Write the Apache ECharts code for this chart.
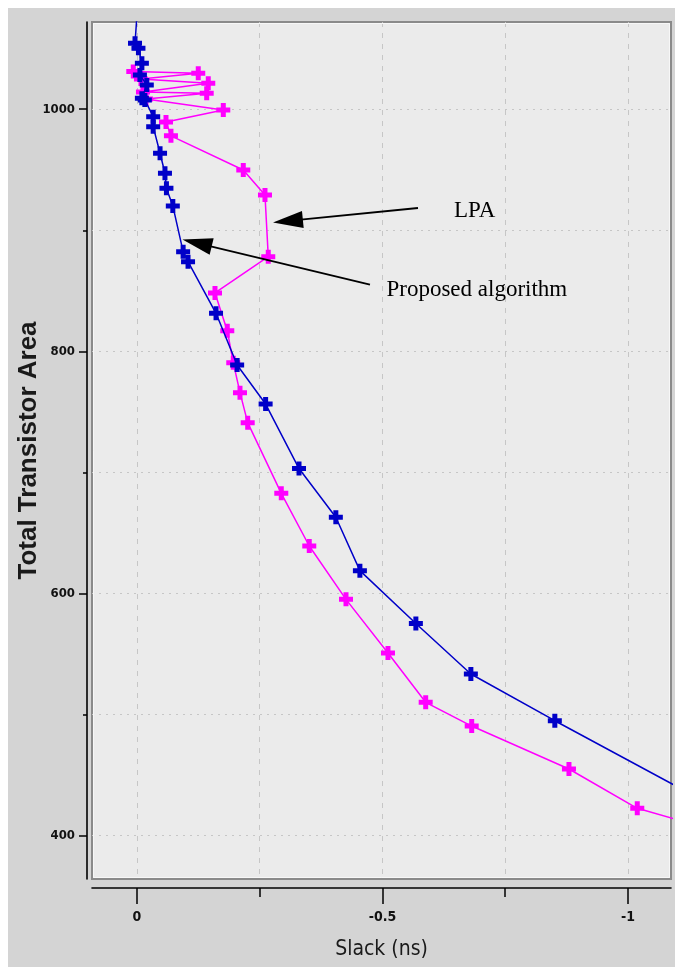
<!DOCTYPE html>
<html><head><meta charset="utf-8">
<script src="https://cdn.jsdelivr.net/npm/echarts@6/dist/echarts.min.js"></script>
<style>html,body{margin:0;padding:0;background:#fff}#c{width:675px;height:967px}</style>
</head><body><div id="c"></div>
<script>
// ---- data ----
const proposedSlack = [0.000, 0.004, -0.003, -0.010, -0.006, -0.020, -0.010, -0.016, -0.033, -0.033, -0.047, -0.057, -0.060, -0.073, -0.094, -0.104, -0.161, -0.204, -0.262, -0.330, -0.405, -0.454, -0.568, -0.680, -0.851, -1.092];
const proposedArea  = [1078, 1054.5, 1050.4, 1038, 1028.3, 1020, 1009, 1007.7, 993.9, 985.6, 963.6, 947.1, 934.7, 920.1, 882.3, 874.0, 831.4, 788.7, 756.4, 703.1, 662.8, 618.7, 575.0, 533.3, 494.7, 442];
const lpaSlack = [0.0075, -0.1248, -0.0081, -0.1452, -0.0122, -0.1420, -0.0183, -0.1758, -0.0591, -0.0692, -0.2165, -0.2607, -0.2674, -0.1589, -0.1839, -0.1961, -0.2098, -0.2255, -0.2939, -0.3509, -0.4257, -0.5112, -0.5880, -0.6817, -0.8798, -1.0189, -1.15];
const lpaArea  = [1031.1, 1029.8, 1025.0, 1021.5, 1014.3, 1013.2, 1008.5, 999.4, 989.5, 978.0, 949.8, 929.2, 878.2, 848.2, 817.0, 790.6, 765.8, 741.0, 682.6, 639.1, 595.0, 550.7, 509.9, 490.3, 454.8, 422.3, 407.3];
const xMajorTicks = [0, -0.5, -1];
const xMinorTicks = [-0.25, -0.75];
const yMajorTicks = [400, 600, 800, 1000];
const yMinorTicks = [500, 700, 900];
const xLabel = 'Slack (ns)';
const yLabel = 'Total Transistor Area';
const annotations = [
  {text: 'LPA', tail: [-0.5723, 918.4], tip: [-0.277, 906.4], label: [-0.6456, 915.8]},
  {text: 'Proposed algorithm', tail: [-0.4745, 855.0], tip: [-0.0927, 892.4], label: [-0.5081, 850.7]}
];

// ---- chart ----
const X_MIN = -1.0876, X_MAX = 0.0916, Y_MIN = 363.9, Y_MAX = 1072.1;
const narrow = "'Liberation Sans Narrow','Arial Narrow','DejaVu Sans Condensed',sans-serif";
const plus = 'path://M4.5,0H9.5V4.5H14V9.5H9.5V14H4.5V9.5H0V4.5H4.5Z';
const zip = (a, b) => a.map((v, i) => [v, b[i]]);
const grid = {left: 92, top: 22, width: 579, height: 857};
const gridLine = (type) => ({show: true, lineStyle: {color: '#c6c6c6', width: 1, type: type}});
const tickLbl = {fontFamily: narrow, fontWeight: 'bold', fontSize: 13, color: '#111', formatter: v => String(v)};

const chart = echarts.init(document.getElementById('c'), null, {renderer: 'canvas'});
const option = {
  animation: false,
  backgroundColor: '#d4d4d4',
  grid: Object.assign({show: true, containLabel: false, outerBoundsMode: 'none',
    backgroundColor: '#ebebeb', borderColor: '#8a8a8a', borderWidth: 2}, grid),
  xAxis: [
    {type: 'value', min: X_MIN, max: X_MAX, inverse: true, position: 'bottom', offset: 9,
     axisLine: {show: true, onZero: false, lineStyle: {color: '#000', width: 1.6}},
     axisTick: {show: true, length: 16, customValues: xMajorTicks, lineStyle: {color: '#000', width: 1.5}},
     axisLabel: Object.assign({show: true, customValues: xMajorTicks, margin: 22}, tickLbl, {fontSize: 14}),
     splitLine: gridLine([5, 6]),
     name: xLabel, nameLocation: 'middle', nameGap: 51, nameMoveOverlap: false,
     nameTextStyle: {fontFamily: narrow, fontSize: 21, color: '#1a1a1a'}},
    {type: 'value', min: X_MIN, max: X_MAX, inverse: true, position: 'bottom', offset: 9,
     axisLine: {show: false, onZero: false},
     axisTick: {show: true, length: 9, customValues: xMinorTicks, lineStyle: {color: '#000', width: 1.5}},
     axisLabel: {show: false},
     splitLine: gridLine([5, 6])}
  ],
  yAxis: [
    {type: 'value', min: Y_MIN, max: Y_MAX, position: 'left', offset: 5,
     axisLine: {show: true, onZero: false, lineStyle: {color: '#000', width: 1.6}},
     axisTick: {show: true, length: 8, customValues: yMajorTicks, lineStyle: {color: '#000', width: 1.5}},
     axisLabel: Object.assign({show: true, customValues: yMajorTicks, margin: 12}, tickLbl),
     splitLine: gridLine([2, 5]),
     name: yLabel, nameLocation: 'middle', nameGap: 45, nameRotate: 90, nameMoveOverlap: false,
     nameTextStyle: {fontFamily: "'Liberation Sans',Arial,sans-serif", fontWeight: 'bold', fontSize: 26, color: '#1a1a1a'}},
    {type: 'value', min: Y_MIN, max: Y_MAX, position: 'left', offset: 5,
     axisLine: {show: false, onZero: false},
     axisTick: {show: true, length: 4, customValues: yMinorTicks, lineStyle: {color: '#000', width: 1.5}},
     axisLabel: {show: false},
     splitLine: gridLine([2, 5])}
  ],
  series: [
    {name: 'LPA', type: 'line', xAxisIndex: 0, yAxisIndex: 0, data: zip(lpaSlack, lpaArea), clip: true,
     symbol: plus, symbolSize: 14, showAllSymbol: true, z: 3,
     lineStyle: {color: '#ff00ff', width: 1.5}, itemStyle: {color: '#ff00ff'}},
    {name: 'Proposed algorithm', type: 'line', xAxisIndex: 0, yAxisIndex: 0, data: zip(proposedSlack, proposedArea), clip: true,
     symbol: plus, symbolSize: 14, showAllSymbol: true, z: 4,
     lineStyle: {color: '#0000c8', width: 1.5}, itemStyle: {color: '#0000c8'}}
  ]
};
chart.setOption(option);

const toPx = p => chart.convertToPixel({xAxisIndex: 0, yAxisIndex: 0}, p);
const graphics = [
  {type: 'rect', shape: {x: 0, y: 0, width: 675, height: 8}, style: {fill: '#fff'}, silent: true, z: 0},
  {type: 'rect', shape: {x: 0, y: 0, width: 8, height: 967}, style: {fill: '#fff'}, silent: true, z: 0},
  {type: 'rect', shape: {x: grid.left + 1.5, y: grid.top + 1.5, width: grid.width - 3, height: grid.height - 3},
   style: {fill: null, stroke: '#f7f7f7', lineWidth: 1}, silent: true, z: 1}
];
annotations.forEach(a => {
  const t = toPx(a.tip), s = toPx(a.tail), l = toPx(a.label);
  const dx = t[0] - s[0], dy = t[1] - s[1], len = Math.hypot(dx, dy);
  const ux = dx / len, uy = dy / len, nx = -uy, ny = ux;
  const L = 30, W = 8.5;
  const bx = t[0] - ux * L, by = t[1] - uy * L;
  graphics.push({type: 'line', shape: {x1: s[0], y1: s[1], x2: bx + ux * 2, y2: by + uy * 2},
    style: {stroke: '#000', lineWidth: 1.8}, silent: true, z: 10});
  graphics.push({type: 'polygon', shape: {points: [t, [bx + nx * W, by + ny * W], [bx - nx * W, by - ny * W]]},
    style: {fill: '#000'}, silent: true, z: 10});
  graphics.push({type: 'text', x: l[0], y: l[1],
    style: {text: a.text, fill: '#000', font: "23px 'Liberation Serif','Times New Roman',serif", verticalAlign: 'middle', align: 'left'},
    silent: true, z: 10});
});
chart.setOption({graphic: graphics});
</script></body></html>
